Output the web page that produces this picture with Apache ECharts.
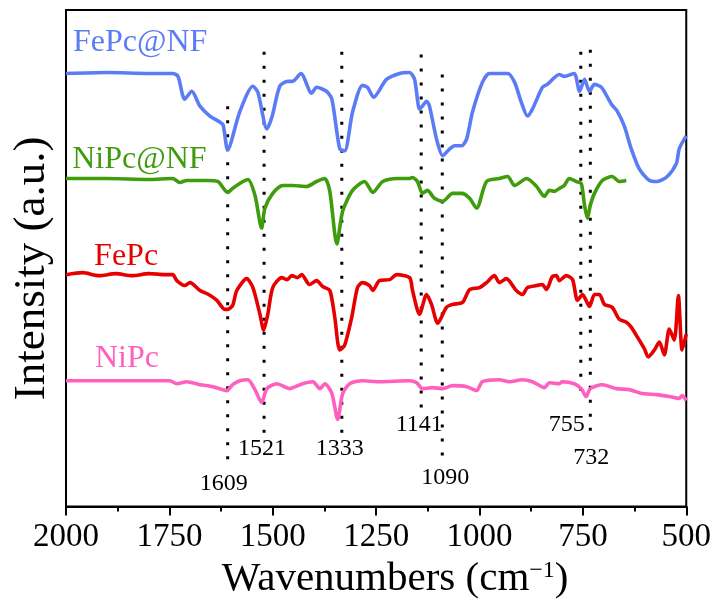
<!DOCTYPE html>
<html>
<head>
<meta charset="utf-8">
<script src="https://cdn.jsdelivr.net/npm/echarts@6/dist/echarts.min.js"></script>
<style>
html,body{margin:0;padding:0;background:#fff;}
#chart{width:714px;height:605px;}
</style>
</head>
<body>
<div id="chart"></div>
<script>
// ---- data (wavenumber cm^-1, intensity a.u. with vertical offsets) ----
var xTicks = [2000, 1750, 1500, 1250, 1000, 750, 500];

var fepcNF = [
  [2000,437],[1900,438],[1800,437],[1742,437],[1729,434],[1713,411],[1696,419],[1676,404],[1652,394],
  [1628,388],[1620,385],[1609,360],[1580,398],[1548,424],[1536,418],[1514,381],[1502,393],
  [1483,424],[1464,429],[1452,429],[1432,437],[1406,417],[1394,423],[1370,419],[1357,411],
  [1338,361],[1326,359],[1307,398],[1283,425],[1271,423],[1256,413],[1225,431],[1193,437],
  [1169,438],[1157,431],[1145,401],[1138,404],[1128,409],[1121,404],[1104,371],[1089,354],
  [1072,361],[1060,364],[1043,364],[1031,371],[1017,398],[993,428],[976,437],[932,437],
  [915,428],[899,408],[884,394],[872,401],[848,423],[836,426],[807,436],[795,434],[771,437],
  [758,419],[746,431],[734,419],[722,426],[705,423],[681,406],[667,399],[650,384],[633,361],
  [614,341],[589,329],[570,328],[546,333],[524,346],[517,361],[500,374]
];

var nipcNF = [
  [2000,331],[1900,331],[1800,330],[1742,331],[1725,327],[1708,329],[1659,329],[1633,328],
  [1609,317],[1597,321],[1580,326],[1560,330],[1543,314],[1527,281],[1519,301],[1500,316],
  [1476,324],[1452,324],[1418,323],[1394,328],[1374,331],[1362,318],[1345,265],[1331,298],
  [1307,319],[1278,328],[1258,317],[1234,328],[1200,331],[1169,331],[1162,332],[1150,328],
  [1138,316],[1126,319],[1109,311],[1089,308],[1065,316],[1043,316],[1024,311],[1007,301],
  [983,328],[952,331],[932,333],[915,324],[886,331],[862,323],[843,313],[831,319],[819,318],
  [807,321],[795,324],[783,331],[766,328],[754,326],[746,304],[739,291],[732,304],[722,316],
  [703,329],[679,333],[662,328],[645,329]
];

var fepc = [
  [2000,234],[1960,236],[1920,233],[1880,235],[1840,233],[1800,235],[1760,234],[1742,234],
  [1732,228],[1713,223],[1700,226],[1676,218],[1655,214],[1635,208],[1616,199],[1609,199],[1597,203],
  [1587,218],[1563,230],[1548,221],[1531,194],[1522,178],[1512,194],[1500,221],[1478,231],
  [1465,229],[1454,233],[1440,231],[1430,234],[1411,224],[1394,228],[1379,222],[1362,218],[1350,191],[1338,158],
  [1326,163],[1309,191],[1295,221],[1283,226],[1266,223],[1258,218],[1242,228],[1217,229],
  [1200,234],[1169,231],[1162,218],[1145,194],[1128,214],[1116,204],[1101,185],[1080,201],
  [1065,204],[1041,206],[1024,219],[1000,221],[983,226],[964,233],[952,226],[935,230],
  [911,218],[896,214],[884,221],[862,223],[848,224],[838,219],[824,232],[814,233],[807,228],
  [790,233],[775,229],[763,208],[751,214],[734,202],[722,214],[710,214],[698,204],[679,201],
  [662,189],[645,186],[633,181],[621,173],[601,159],[592,151],[577,158],[565,166],[553,153],
  [541,179],[529,168],[519,213],[510,158],[500,174]
];

var nipc = [
  [2000,127],[1900,127],[1800,127],[1749,127],[1732,124],[1708,126],[1676,123],[1645,121],
  [1611,117],[1597,123],[1580,127],[1560,128],[1543,118],[1527,105],[1514,119],[1490,124],
  [1459,119],[1428,124],[1403,126],[1386,119],[1374,124],[1357,114],[1343,88],[1331,114],
  [1314,124],[1283,127],[1242,126],[1169,127],[1152,125],[1138,119],[1114,120],[1089,119],
  [1065,122],[1031,121],[1007,117],[993,126],[952,128],[928,126],[896,128],[872,126],
  [843,120],[831,125],[807,124],[800,126],[771,124],[754,119],[742,111],[732,119],[703,123],
  [669,119],[638,118],[606,114],[572,113],[541,111],[517,109],[510,112],[500,107]
];

var seriesNames = ['FePc@NF', 'NiPc@NF', 'FePc', 'NiPc'];
// name anchor [wavenumber, intensity]
var nameAnchors = [[1983,468],[1985,350],[1932,252],[1930,149]];

var peakWn     = [1609, 1521, 1333, 1141, 1090, 755, 732];
var peakTop    = [404, 459, 459, 456, 436, 459, 461];
var peakBottom = [46, 71, 73, 99, 48, 111, 71];
var peakLabelY = [23, 58, 58, 83, 29, 83, 49];

// ---- chart ----
var colors = ['#5B7CF5', '#3F9C0C', '#E60000', '#FF5FBE'];
var curves = [fepcNF, nipcNF, fepc, nipc];
var serif = 'Liberation Serif';
var labelDx = [-4, -2, -2, -2, 3, -14, 1];

var series = [];
peakWn.forEach(function (w, i) {
  series.push({
    type: 'line', silent: true, symbol: 'none', z: 1,
    data: [[w, peakTop[i]], [w, peakBottom[i]]],
    lineStyle: { color: '#000', width: 3, type: [3, 11], cap: 'butt' }
  });
});
curves.forEach(function (d, i) {
  series.push({
    type: 'line', name: seriesNames[i], data: d, symbol: 'none', smooth: 0.25, z: 3,
    lineStyle: { color: colors[i], width: 3.6 }
  });
});
series.push({
  type: 'scatter', symbolSize: 0, silent: true, z: 4,
  data: peakWn.map(function (w, i) {
    return { value: [w, peakLabelY[i]], name: String(w),
      label: { show: true, position: 'inside', offset: [labelDx[i], 0], opacity: 1,
        formatter: '{b}', fontFamily: serif, fontSize: 24, color: '#000' } };
  })
});
series.push({
  type: 'scatter', symbolSize: 0, silent: true, z: 4,
  data: nameAnchors.map(function (p, i) {
    return { value: p, name: seriesNames[i],
      label: { show: true, position: 'right', distance: 0, formatter: '{b}', opacity: 1,
        fontFamily: serif, fontSize: 32, color: colors[i] } };
  })
});

var chart = echarts.init(document.getElementById('chart'));
chart.setOption({
  animation: false,
  backgroundColor: '#fff',
  textStyle: { fontFamily: serif },
  grid: { left: 66, right: 27, top: 10, bottom: 94, show: true,
    borderColor: '#000', borderWidth: 2, backgroundColor: 'transparent' },
  xAxis: {
    type: 'value', min: 500, max: 2000, interval: 250, inverse: true,
    name: '{a|Wavenumbers (cm}{s|−1}{a|)}',
    nameLocation: 'middle', nameGap: 48,
    nameTextStyle: { padding: [0, 0, 0, 38],
      rich: {
        a: { fontFamily: serif, fontSize: 41, color: '#000' },
        s: { fontFamily: serif, fontSize: 24, color: '#000', verticalAlign: 'top', padding: [0, 0, 18, 0] }
      } },
    axisLine: { show: true, lineStyle: { color: '#000', width: 2 } },
    axisTick: { show: true, length: 9, lineStyle: { color: '#000', width: 2 } },
    minorTick: { show: true, splitNumber: 2, length: 5, lineStyle: { color: '#000', width: 2 } },
    splitLine: { show: false },
    axisLabel: { fontFamily: serif, fontSize: 33, color: '#000', margin: 14,
      formatter: function (v) { return String(v); } }
  },
  yAxis: {
    type: 'value', min: 0, max: 501,
    name: 'Intensity (a.u.)', nameLocation: 'middle', nameGap: 11, nameRotate: 90,
    nameTextStyle: { fontFamily: serif, fontSize: 45, color: '#000', padding: [0, 20, 0, 0] },
    axisLine: { show: true, lineStyle: { color: '#000', width: 2 } },
    axisTick: { show: false }, axisLabel: { show: false }, splitLine: { show: false }
  },
  series: series
});
</script>
</body>
</html>
